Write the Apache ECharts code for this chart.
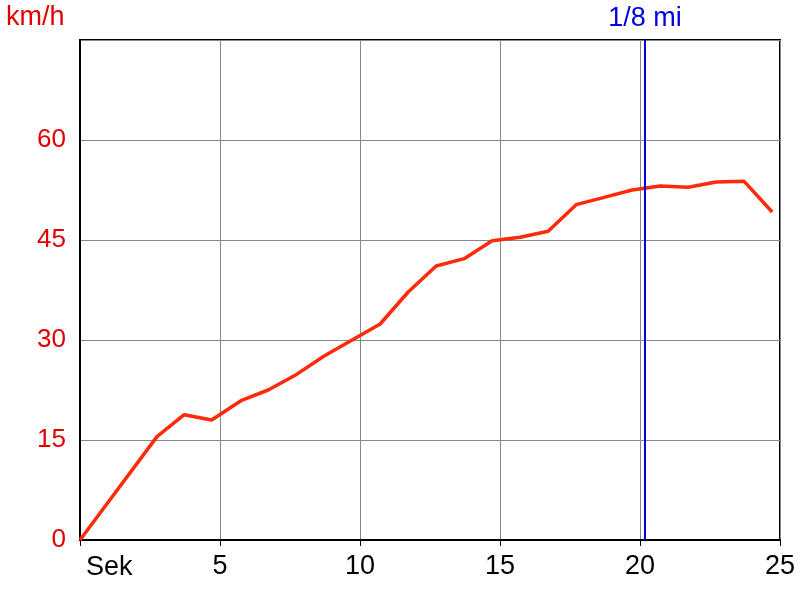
<!DOCTYPE html>
<html><head><meta charset="utf-8">
<script src="https://cdn.jsdelivr.net/npm/echarts@6/dist/echarts.min.js"></script>
<style>html,body{margin:0;padding:0;background:#fff}#c{width:800px;height:600px}</style>
</head><body><div id="c"></div>
<script>
const times = [0, 2.75, 3.72, 4.7, 5.75, 6.72, 7.72, 8.72, 9.72, 10.72, 11.72, 12.72, 13.72, 14.72, 15.72, 16.72, 17.72, 18.72, 19.72, 20.72, 21.72, 22.72, 23.72, 24.72];
const speeds = [0, 15.5, 18.8, 18.0, 20.9, 22.5, 24.8, 27.6, 30.0, 32.4, 37.2, 41.1, 42.2, 44.9, 45.4, 46.3, 50.3, 51.4, 52.5, 53.1, 52.9, 53.7, 53.8, 49.2];
const markerTime = 20.18;
const markerLabel = '1/8 mi';
const yTicks = [0, 15, 30, 45, 60];
const xUnit = 'Sek';
const yUnit = 'km/h';

const chart = echarts.init(document.getElementById('c'));
chart.setOption({
  animation: false,
  backgroundColor: '#fff',
  grid: {left: 80, right: 20, top: 40, bottom: 60, show: true, borderColor: '#000', borderWidth: 2, containLabel: false},
  xAxis: {
    type: 'value', min: 0, max: 25, interval: 5,
    axisLine: {show: true, lineStyle: {color: '#000', width: 2}},
    axisTick: {show: true, length: 6, lineStyle: {color: '#000', width: 1}},
    splitLine: {show: true, lineStyle: {color: '#888', width: 1}},
    axisLabel: {color: '#000', fontFamily: 'Liberation Sans, Arial', fontSize: 27, margin: 13,
      formatter: v => v === 0 ? '' : String(v)}
  },
  yAxis: {
    type: 'value', min: 0, max: 75, interval: 15,
    axisLine: {show: true, lineStyle: {color: '#000', width: 2}},
    axisTick: {show: false},
    splitLine: {show: true, lineStyle: {color: '#888', width: 1}},
    axisLabel: {color: '#e00000', fontFamily: 'Liberation Sans, Arial', fontSize: 26, margin: 14,
      formatter: v => yTicks.includes(v) ? String(v) : ''}
  },
  graphic: [
    {type: 'text', left: 6, top: 4, style: {text: yUnit, fill: '#e00000', font: '27px "Liberation Sans", Arial'}},
    {type: 'text', left: 86, top: 554, style: {text: xUnit, fill: '#000', font: '27px "Liberation Sans", Arial'}}
  ],
  series: [{
    type: 'line',
    data: times.map((t, i) => [t, speeds[i]]),
    showSymbol: false,
    lineStyle: {color: '#ff2a0a', width: 3.5},
    z: 3,
    markLine: {
      silent: true, symbol: 'none',
      lineStyle: {color: '#0000e0', width: 2, type: 'solid'},
      label: {show: true, position: 'end', formatter: markerLabel, color: '#0000e0',
        fontFamily: 'Liberation Sans, Arial', fontSize: 27, distance: 8},
      data: [{xAxis: markerTime}]
    }
  }]
});
</script></body></html>
